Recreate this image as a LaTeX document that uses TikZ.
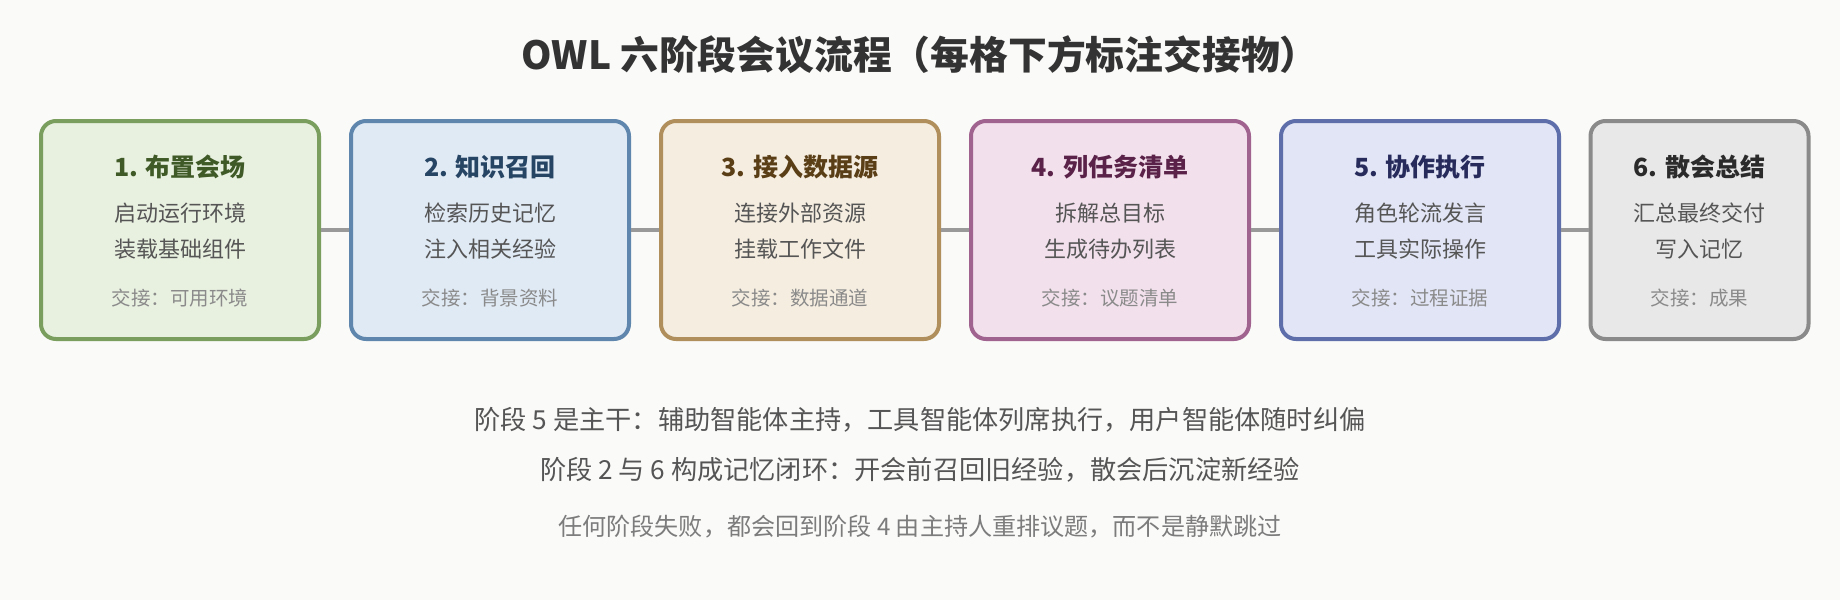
\documentclass[tikz,border=0pt]{standalone}
\usepackage{fontspec}
\setmainfont{Noto Sans CJK SC}
\newfontfamily\cjk{Noto Sans CJK SC}
\definecolor{bg}{HTML}{FAFAF9}
\definecolor{conn}{HTML}{999999}
\definecolor{bodyc}{HTML}{555555}
\definecolor{hoc}{HTML}{8A8A8A}
\definecolor{titc}{HTML}{333333}
\definecolor{fa}{HTML}{E8F0E0}\definecolor{ba}{HTML}{7A9E5E}\definecolor{ta}{HTML}{3F5A26}
\definecolor{fb}{HTML}{E0EAF5}\definecolor{bb}{HTML}{5F86AD}\definecolor{tb}{HTML}{264463}
\definecolor{fc}{HTML}{F5EDE0}\definecolor{bc}{HTML}{B08F5C}\definecolor{tc}{HTML}{5A3E16}
\definecolor{fd}{HTML}{F2E0EC}\definecolor{bd}{HTML}{A0628E}\definecolor{td}{HTML}{5A2248}
\definecolor{fe}{HTML}{E2E5F5}\definecolor{be}{HTML}{5E6EAA}\definecolor{te}{HTML}{262B5C}
\definecolor{ff}{HTML}{E8E8E8}\definecolor{bf}{HTML}{8A8A8A}\definecolor{tf}{HTML}{2B2B2B}
\begin{document}
\begin{tikzpicture}[x=1pt,y=-1pt,
  stagebox/.style={draw, line width=4pt, rounded corners=15pt, minimum width=278pt, minimum height=218pt, inner sep=0pt},
  ttl/.style={font=\cjk\bfseries\fontsize{25pt}{30pt}\selectfont, inner sep=0pt},
  bodytxt/.style={font=\cjk\fontsize{22pt}{26pt}\selectfont, text=bodyc, inner sep=0pt},
  hotxt/.style={font=\cjk\fontsize{19.5pt}{24pt}\selectfont, text=hoc, inner sep=0pt},
  link/.style={draw=conn, line width=4pt},
  note/.style={font=\cjk\fontsize{26.2pt}{32pt}\selectfont, text=bodyc, inner sep=0pt}
]
\useasboundingbox (0,0) rectangle (1840,600);
\fill[bg] (0,0) rectangle (1840,600);
\node[font=\cjk\bfseries\fontsize{38.8pt}{46pt}\selectfont, text=titc, inner sep=0pt] (title) at (920,55) {OWL 六阶段会议流程（每格下方标注交接物）};
% boxes
\node[stagebox, draw=ba, fill=fa] (s1) at (180,230) {};
\node[stagebox, draw=bb, fill=fb] (s2) at (490,230) {};
\node[stagebox, draw=bc, fill=fc] (s3) at (800,230) {};
\node[stagebox, draw=bd, fill=fd] (s4) at (1110,230) {};
\node[stagebox, draw=be, fill=fe] (s5) at (1420,230) {};
\node[stagebox, draw=bf, fill=ff, minimum width=218pt] (s6) at (1699.5,230) {};
\foreach \a/\b in {s1/s2,s2/s3,s3/s4,s4/s5,s5/s6}
  \draw[link] (\a.east) -- (\b.west);
% box 1
\node[ttl, text=ta] (t1) at (180,167) {1. 布置会场};
\node[bodytxt] (a1) at (180,213) {启动运行环境};
\node[bodytxt] (b1) at (180,249) {装载基础组件};
\node[hotxt] (h1) at (180,298) {交接：可用环境};
% box 2
\node[ttl, text=tb] (t2) at (490,167) {2. 知识召回};
\node[bodytxt] (a2) at (490,213) {检索历史记忆};
\node[bodytxt] (b2) at (490,249) {注入相关经验};
\node[hotxt] (h2) at (490,298) {交接：背景资料};
% box 3
\node[ttl, text=tc] (t3) at (800,167) {3. 接入数据源};
\node[bodytxt] (a3) at (800,213) {连接外部资源};
\node[bodytxt] (b3) at (800,249) {挂载工作文件};
\node[hotxt] (h3) at (800,298) {交接：数据通道};
% box 4
\node[ttl, text=td] (t4) at (1110,167) {4. 列任务清单};
\node[bodytxt] (a4) at (1110,213) {拆解总目标};
\node[bodytxt] (b4) at (1110,249) {生成待办列表};
\node[hotxt] (h4) at (1110,298) {交接：议题清单};
% box 5
\node[ttl, text=te] (t5) at (1420,167) {5. 协作执行};
\node[bodytxt] (a5) at (1420,213) {角色轮流发言};
\node[bodytxt] (b5) at (1420,249) {工具实际操作};
\node[hotxt] (h5) at (1420,298) {交接：过程证据};
% box 6
\node[ttl, text=tf] (t6) at (1699.5,167) {6. 散会总结};
\node[bodytxt] (a6) at (1699.5,213) {汇总最终交付};
\node[bodytxt] (b6) at (1699.5,249) {写入记忆};
\node[hotxt] (h6) at (1699.5,298) {交接：成果};
% notes
\node[note] (n1) at (920,420) {阶段 5 是主干：辅助智能体主持，工具智能体列席执行，用户智能体随时纠偏};
\node[note] (n2) at (920,470) {阶段 2 与 6 构成记忆闭环：开会前召回旧经验，散会后沉淀新经验};
\node[note, text=hoc!90!black, font=\cjk\fontsize{24.1pt}{30pt}\selectfont] (n3) at (920,527) {任何阶段失败，都会回到阶段 4 由主持人重排议题，而不是静默跳过};
\end{tikzpicture}
\end{document}
